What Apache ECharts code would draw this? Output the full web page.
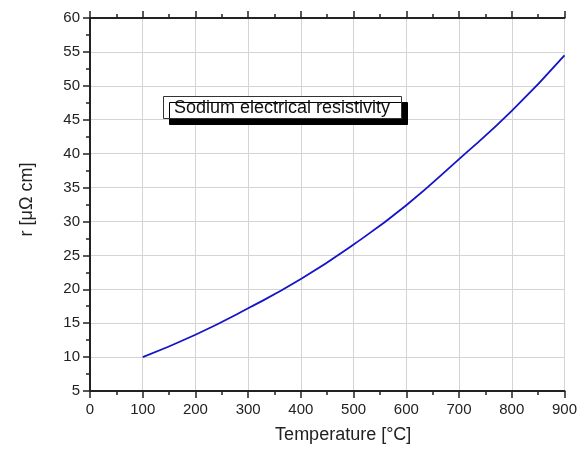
<!DOCTYPE html>
<html>
<head>
<meta charset="utf-8">
<script src="https://cdn.jsdelivr.net/npm/echarts@6/dist/echarts.min.js"></script>
<style>
html,body{margin:0;padding:0;background:#fff;}
#chart{width:580px;height:449px;}
</style>
</head>
<body>
<div id="chart"></div>
<script>
const temperatures = [100, 200, 300, 400, 500, 600, 700, 800, 900];
const resistivity = [10.0, 13.3, 17.2, 21.5, 26.6, 32.4, 39.2, 46.3, 54.5];
const seriesName = 'Sodium electrical resistivity';
const xAxisTitle = 'Temperature [°C]';
const yAxisTitle = 'r [μΩ cm]';

const font = '"Liberation Sans", Arial, sans-serif';
const chart = echarts.init(document.getElementById('chart'), null, {renderer: 'canvas'});
const data = temperatures.map((t, i) => [t, resistivity[i]]);

chart.setOption({
  animation: false,
  backgroundColor: '#fff',
  title: {
    text: seriesName,
    left: 163, top: 96,
    padding: [3, 12, 2, 11],
    backgroundColor: '#fff',
    borderColor: '#333',
    borderWidth: 1,
    shadowColor: '#000',
    shadowBlur: 0,
    shadowOffsetX: 6,
    shadowOffsetY: 6,
    textStyle: {fontFamily: font, fontSize: 18, lineHeight: 18, fontWeight: 'normal', color: '#111'}
  },
  grid: {left: 90, top: 18, right: 11, bottom: 57, containLabel: false},
  xAxis: [{
    type: 'value', min: 0, max: 900, interval: 100,
    name: xAxisTitle, nameLocation: 'middle', nameGap: 35,
    nameTextStyle: {fontFamily: font, fontSize: 18, color: '#222', padding: [0, 0, 0, 32]},
    axisLine: {show: true, onZero: false, lineStyle: {color: '#222', width: 2}},
    axisTick: {show: true, inside: false, length: 7, lineStyle: {color: '#222', width: 1.5}},
    minorTick: {show: true, splitNumber: 2, length: 4, lineStyle: {color: '#222', width: 1.5}},
    axisLabel: {fontFamily: font, fontSize: 15, color: '#222', margin: 11},
    splitLine: {show: true, lineStyle: {color: '#d4d4d4', width: 1}}
  }, {
    type: 'value', min: 0, max: 900, interval: 100, position: 'top',
    axisLine: {show: true, onZero: false, lineStyle: {color: '#222', width: 2}},
    axisTick: {show: true, inside: false, length: 7, lineStyle: {color: '#222', width: 1.5}},
    minorTick: {show: true, splitNumber: 2, length: 4, lineStyle: {color: '#222', width: 1.5}},
    axisLabel: {show: false},
    splitLine: {show: false}
  }],
  yAxis: {
    type: 'value', min: 5, max: 60, interval: 5,
    name: yAxisTitle, nameLocation: 'middle', nameGap: 54,
    nameTextStyle: {fontFamily: font, fontSize: 18, color: '#222', padding: [0, 0, 0, 10]},
    axisLine: {show: true, onZero: false, lineStyle: {color: '#222', width: 2}},
    axisTick: {show: true, inside: false, length: 7, lineStyle: {color: '#222', width: 1.5}},
    minorTick: {show: true, splitNumber: 2, length: 4, lineStyle: {color: '#222', width: 1.5}},
    axisLabel: {fontFamily: font, fontSize: 15, color: '#222', margin: 10},
    splitLine: {show: true, lineStyle: {color: '#d4d4d4', width: 1}}
  },
  series: [{
    name: seriesName,
    type: 'line',
    data: data,
    smooth: 0.5,
    showSymbol: false,
    lineStyle: {color: '#1414c8', width: 1.8}
  }]
});
</script>
</body>
</html>
